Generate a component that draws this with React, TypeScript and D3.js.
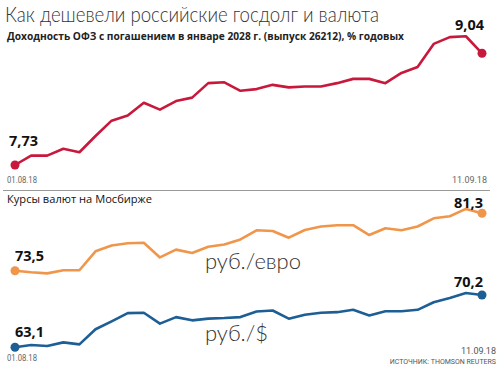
import React from "react";
import * as d3 from "d3";

const dates = ["01.08.18", "11.09.18"];
const ofz = [7.73, 7.84, 7.84, 7.92, 7.88, 8.07, 8.25, 8.31, 8.46, 8.38, 8.48, 8.52, 8.69, 8.70, 8.60, 8.62, 8.67, 8.64, 8.65, 8.65, 8.69, 8.74, 8.74, 8.69, 8.81, 8.88, 9.15, 9.23, 9.24, 9.04];
const eur = [73.5, 73.28, 73.14, 73.56, 73.56, 76.13, 76.92, 77.23, 77.29, 75.30, 76.36, 75.91, 76.74, 77.05, 77.75, 78.99, 78.89, 77.98, 79.03, 79.5, 79.68, 79.68, 78.34, 79.27, 78.99, 79.5, 80.61, 80.89, 81.89, 81.3];
const usd = [63.1, 63.41, 63.27, 63.77, 63.5, 65.55, 66.62, 67.74, 67.79, 66.32, 67.2, 66.76, 66.99, 67.07, 67.2, 67.96, 68.1, 66.99, 67.52, 67.79, 67.87, 68.19, 67.43, 68.0, 68.0, 68.19, 69.21, 69.8, 70.47, 70.2];
const ofzLabels = ["7,73", "9,04"];
const eurLabels = ["73,5", "81,3"];
const usdLabels = ["63,1", "70,2"];

const RED = "#c8193c";
const ORANGE = "#f0964b";
const BLUE = "#1d5f95";

export default function App() {
  const x = d3.scaleLinear().domain([0, ofz.length - 1]).range([15, 482]);
  const yTop = d3.scaleLinear().domain([7.73, 9.04]).range([165, 53.3]);
  const yBot = d3.scaleLinear().domain([63.1, 73.5]).range([347.3, 270.7]);

  const lineTop = d3.line<number>().x((_, i) => x(i)).y((d) => yTop(d));
  const lineBot = d3.line<number>().x((_, i) => x(i)).y((d) => yBot(d));
  const n = ofz.length - 1;

  const boldFont = "'Open Sans', sans-serif";
  const smallFont = "Roboto, sans-serif";

  const valLabel = (txt: string, xx: number, yy: number, anchor: string) => (
    <text x={xx} y={yy} textAnchor={anchor} fontFamily={boldFont} fontWeight={700} fontSize={14.5} fill="#111">
      {txt}
    </text>
  );

  return (
    <svg width={501} height={380} style={{ position: "absolute", left: 0, top: 0, background: "#fff" }}>
      <text x={5} y={22} fontFamily="Lato, sans-serif" fontWeight={300} fontSize={21.5} fill="#333" textLength={374} lengthAdjust="spacingAndGlyphs">
        Как дешевели российские госдолг и валюта
      </text>
      <text x={7} y={40} fontFamily={boldFont} fontWeight={700} fontSize={11} fill="#222" textLength={397} lengthAdjust="spacingAndGlyphs">
        Доходность ОФЗ с погашением в январе 2028 г. (выпуск 26212), % годовых
      </text>

      <path d={lineTop(ofz) || ""} fill="none" stroke={RED} strokeWidth={2.6} strokeLinejoin="round" />
      <circle cx={x(0)} cy={yTop(ofz[0])} r={4.5} fill={RED} />
      <circle cx={x(n)} cy={yTop(ofz[n])} r={4.5} fill={RED} />
      {valLabel(ofzLabels[0], 9, 146, "start")}
      {valLabel(ofzLabels[1], 484, 30, "end")}

      <text x={7} y={183} fontFamily={smallFont} fontSize={9} fill="#666" textLength={30} lengthAdjust="spacingAndGlyphs">{dates[0]}</text>
      <text x={487} y={183} textAnchor="end" fontFamily={smallFont} fontSize={9} fill="#666">{dates[1]}</text>

      <line x1={3} x2={490} y1={190.5} y2={190.5} stroke="#999" strokeWidth={1} />
      <text x={7} y={203} fontFamily="'Open Sans', sans-serif" fontSize={11.5} fill="#111" textLength={145} lengthAdjust="spacingAndGlyphs">
        Курсы валют на Мосбирже
      </text>

      <path d={lineBot(eur) || ""} fill="none" stroke={ORANGE} strokeWidth={2.6} strokeLinejoin="round" />
      <circle cx={x(0)} cy={yBot(eur[0])} r={4.5} fill={ORANGE} />
      <circle cx={x(n)} cy={yBot(eur[n])} r={4.5} fill={ORANGE} />
      {valLabel(eurLabels[0], 15, 261, "start")}
      {valLabel(eurLabels[1], 483, 208, "end")}

      <path d={lineBot(usd) || ""} fill="none" stroke={BLUE} strokeWidth={2.6} strokeLinejoin="round" />
      <circle cx={x(0)} cy={yBot(usd[0])} r={4.5} fill={BLUE} />
      <circle cx={x(n)} cy={yBot(usd[n])} r={4.5} fill={BLUE} />
      {valLabel(usdLabels[0], 15, 337, "start")}
      {valLabel(usdLabels[1], 483, 287, "end")}

      <text x={205} y={269} fontFamily="Lato, sans-serif" fontWeight={300} fontSize={22} fill="#333">руб./евро</text>
      <text x={205} y={341} fontFamily="Lato, sans-serif" fontWeight={300} fontSize={22} fill="#333">руб./$</text>

      <text x={7} y={361} fontFamily={smallFont} fontSize={9} fill="#666" textLength={30} lengthAdjust="spacingAndGlyphs">{dates[0]}</text>
      <text x={496} y={354} textAnchor="end" fontFamily={smallFont} fontSize={9} fill="#555">{dates[1]}</text>
      <text x={496} y={363.5} textAnchor="end" fontFamily={smallFont} fontSize={7} fill="#555">ИСТОЧНИК: THOMSON REUTERS</text>
    </svg>
  );
}
